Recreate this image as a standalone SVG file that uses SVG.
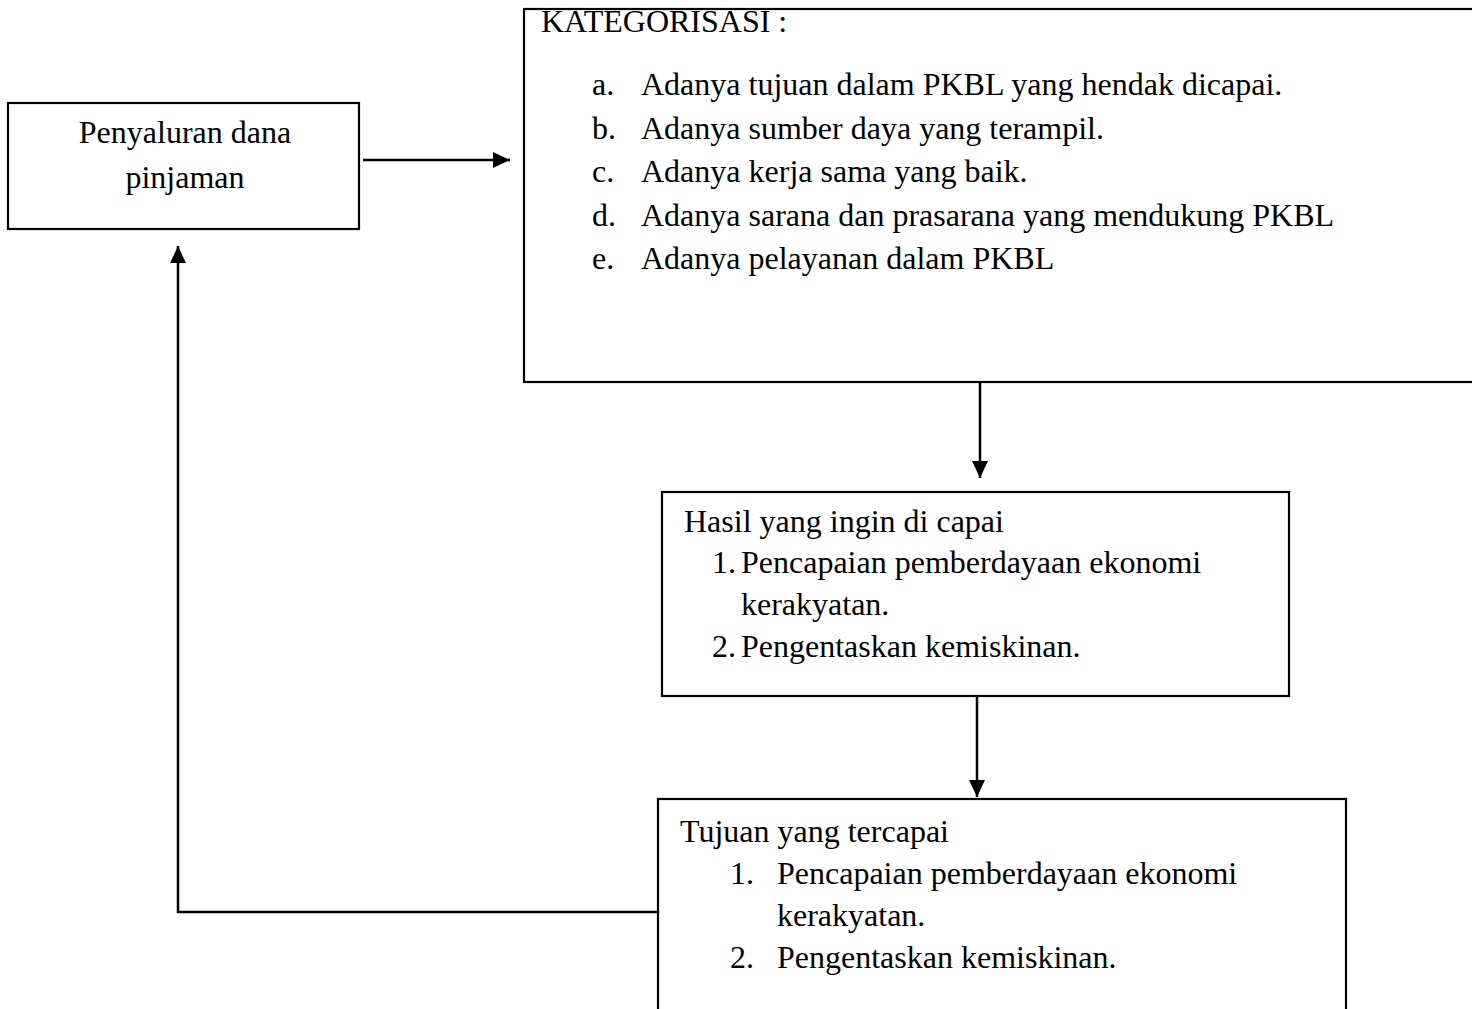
<svg xmlns="http://www.w3.org/2000/svg" width="1472" height="1009" viewBox="0 0 1472 1009">
<style>
.box{fill:#fff;stroke:#000;stroke-width:2.2}
.t{font-family:"Liberation Serif","Times New Roman",serif;font-size:32px;fill:#000}
.c{stroke:#000;stroke-width:2.5;fill:none}
</style>
<defs>
<marker id="ah2" markerWidth="17" markerHeight="16" refX="17" refY="8" orient="auto" markerUnits="userSpaceOnUse">
<path d="M0,0 L17,8 L0,16 Z" fill="#000"/>
</marker>
</defs>
<rect width="1472" height="1009" fill="#fff"/>
<g id="connectors">
<line class="c" x1="363" y1="160" x2="510" y2="160" marker-end="url(#ah2)"/>
<line class="c" x1="980" y1="382" x2="980" y2="478" marker-end="url(#ah2)"/>
<line class="c" x1="977" y1="697" x2="977" y2="797" marker-end="url(#ah2)"/>
<polyline class="c" points="658,912 178,912 178,246" marker-end="url(#ah2)"/>
</g>
<g id="node-penyaluran">
<rect class="box" x="8" y="103" width="351" height="126"/>
<text class="t" x="185" y="143" text-anchor="middle">Penyaluran dana</text>
<text class="t" x="185" y="188" text-anchor="middle">pinjaman</text>
</g>
<g id="node-kategorisasi">
<rect class="box" x="524" y="9" width="960" height="373"/>
<text class="t" x="541" y="32">KATEGORISASI :</text>
<text class="t" x="592" y="95">a.</text><text class="t" x="641" y="95">Adanya tujuan dalam PKBL yang hendak dicapai.</text>
<text class="t" x="592" y="139">b.</text><text class="t" x="641" y="139">Adanya sumber daya yang terampil.</text>
<text class="t" x="592" y="182">c.</text><text class="t" x="641" y="182">Adanya kerja sama yang baik.</text>
<text class="t" x="592" y="226">d.</text><text class="t" x="641" y="226">Adanya sarana dan prasarana yang mendukung PKBL</text>
<text class="t" x="592" y="269">e.</text><text class="t" x="641" y="269">Adanya pelayanan dalam PKBL</text>
</g>
<g id="node-hasil">
<rect class="box" x="662" y="492" width="627" height="204"/>
<text class="t" x="684" y="532">Hasil yang ingin di capai</text>
<text class="t" x="712" y="573">1.</text><text class="t" x="741" y="573">Pencapaian pemberdayaan ekonomi</text>
<text class="t" x="741" y="615">kerakyatan.</text>
<text class="t" x="712" y="657">2.</text><text class="t" x="741" y="657">Pengentaskan kemiskinan.</text>
</g>
<g id="node-tujuan">
<rect class="box" x="658" y="799" width="688" height="230"/>
<text class="t" x="680" y="842">Tujuan yang tercapai</text>
<text class="t" x="730" y="884">1.</text><text class="t" x="777" y="884">Pencapaian pemberdayaan ekonomi</text>
<text class="t" x="777" y="926">kerakyatan.</text>
<text class="t" x="730" y="968">2.</text><text class="t" x="777" y="968">Pengentaskan kemiskinan.</text>
</g>
</svg>
